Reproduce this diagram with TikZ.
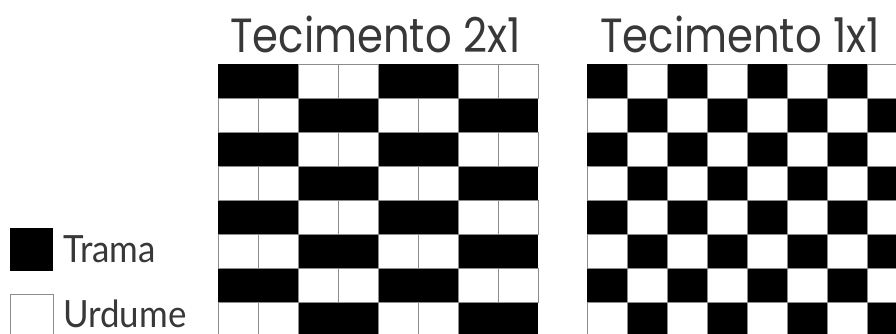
\documentclass[tikz,border=0pt]{standalone}
\usepackage{fontspec}
\setmainfont{Poppins}
\newfontfamily\titlefont[FakeStretch=0.87]{Poppins}
\newfontfamily\legfont[FakeStretch=0.93]{Lato}
\definecolor{txt}{HTML}{383838}
\definecolor{gridc}{HTML}{8C8C8C}
\begin{document}
\begin{tikzpicture}[x=1pt,y=-1pt,
  title/.style={font=\titlefont\fontsize{48}{50}\selectfont, text=txt, inner sep=0pt, anchor=base west},
  legtext/.style={font=\legfont\fontsize{37.5}{40}\selectfont, text=txt, inner sep=0pt, anchor=base west},
  blackcell/.style={fill=black},
  whitecell/.style={draw=gridc, line width=1pt}]
\useasboundingbox (0,0) rectangle (896,333);
\fill[white] (0,0) rectangle (896,333);
% left grid 2x1
\foreach \r in {0,...,7}{
  \foreach \c in {0,...,7}{
    \pgfmathtruncatemacro\b{mod(int(\c/2)+\r,2)}
    \ifnum\b=0
      \fill[blackcell] (218+40*\c,64+34*\r) rectangle ++(40,34);
    \fi
  }
}
\foreach \r in {0,...,7}{
  \foreach \c in {0,...,7}{
    \pgfmathtruncatemacro\b{mod(int(\c/2)+\r,2)}
    \ifnum\b=1
      \draw[whitecell] (218+40*\c,64+34*\r) rectangle ++(40,34);
    \fi
  }
}
% right grid 1x1
\foreach \r in {0,...,7}{
  \foreach \c in {0,...,7}{
    \pgfmathtruncatemacro\b{mod(\c+\r,2)}
    \ifnum\b=0
      \fill[blackcell] (587+40*\c,64+34*\r) rectangle ++(40,34);
    \fi
  }
}
\foreach \r in {0,...,7}{
  \foreach \c in {0,...,7}{
    \pgfmathtruncatemacro\b{mod(\c+\r,2)}
    \ifnum\b=1
      \draw[whitecell] (587+40*\c,64+34*\r) rectangle ++(40,34);
    \fi
  }
}
\node[title] (t1) at (230,52) {Tecimento 2x1};
\node[title] (t2) at (600,52) {Tecimento 1x1};
% legend
\fill[blackcell] (10,228) rectangle (53,271);
\draw[whitecell] (10,294) rectangle (53,337);
\node[legtext] (l1) at (63,262) {Trama};
\node[legtext] (l2) at (63,327) {Urdume};
\end{tikzpicture}
\end{document}
